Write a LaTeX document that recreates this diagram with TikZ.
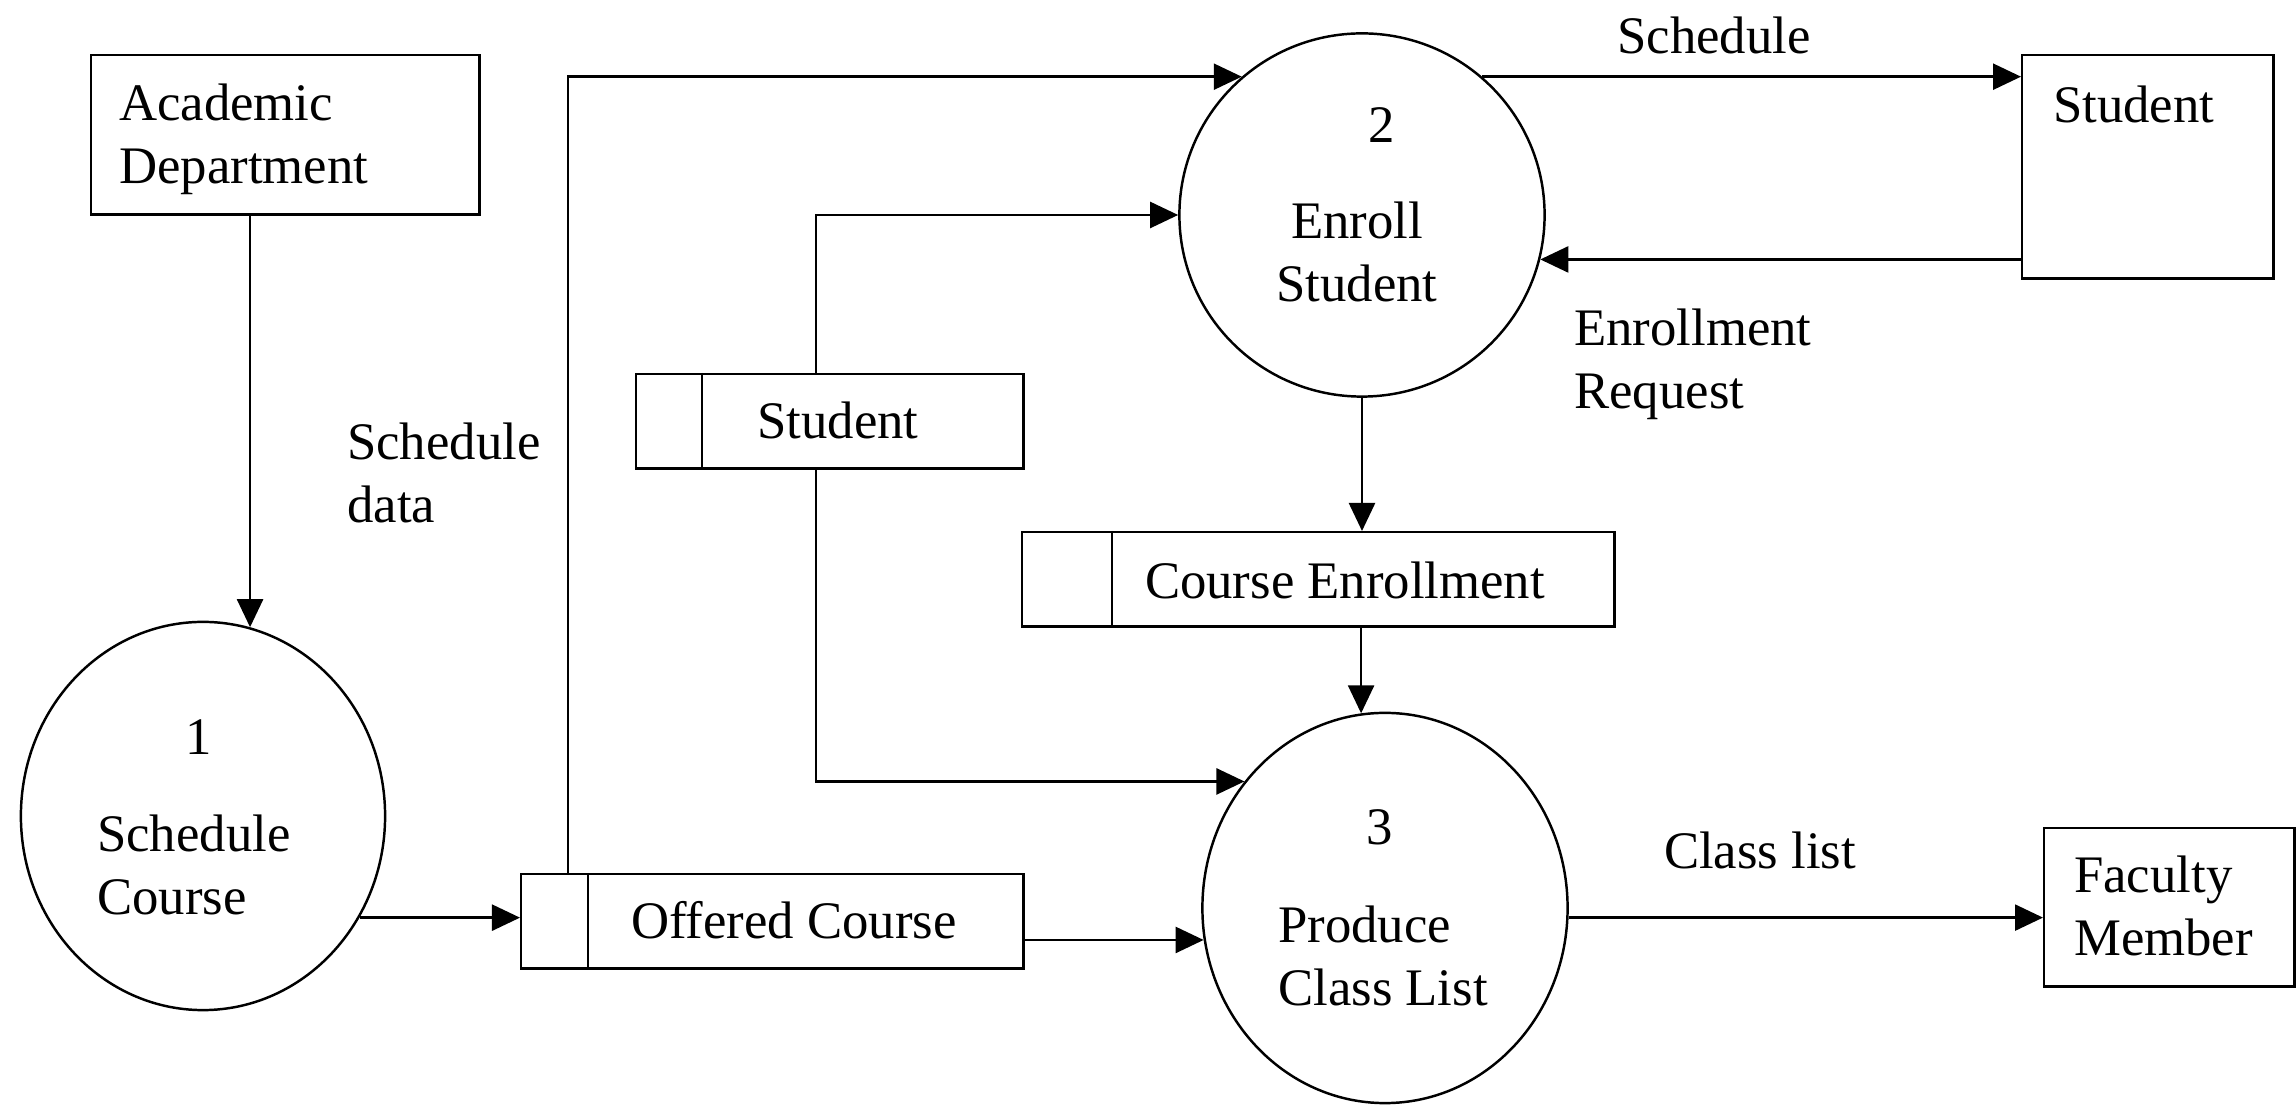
\documentclass[tikz,border=0pt]{standalone}
\usepackage{fontspec}
\setmainfont{Liberation Serif}
\usetikzlibrary{arrows.meta}
\usetikzlibrary{shapes.geometric}

\begin{document}
\begin{tikzpicture}[x=0.01cm, y=-0.01cm, line width=0.7pt, >={Triangle[length=2.8mm,width=2.6mm]},
  font=\fontsize{15pt}{18pt}\selectfont,
  entity/.style={draw, rectangle, anchor=north west, inner sep=0pt},
  datastore/.style={draw, rectangle, anchor=north west, inner sep=0pt, minimum height=0.94cm},
  process/.style={draw, ellipse, inner sep=0pt},
  txt/.style={inner sep=0pt, anchor=base west, align=left},
  ctxt/.style={inner sep=0pt, anchor=base, align=center}]
\useasboundingbox (0,0) rectangle (2296,1107);
\begin {scope}
  \node [entity, minimum width=3.88cm, minimum height=1.59cm] (dept) at (90,54) {};
  \node [entity, minimum width=2.51cm, minimum height=2.23cm] (student) at (2021,54) {};
  \node [entity, minimum width=2.50cm, minimum height=1.58cm] (faculty) at (2043,827) {};
  \node [datastore, minimum width=3.87cm] (ststore) at (635,373) {};
  \node [datastore, minimum width=5.92cm] (cestore) at (1021,531) {};
  \node [datastore, minimum width=5.02cm] (ofstore) at (520,873) {};
  \foreach \s/\d in {ststore/0.67, cestore/0.91, ofstore/0.68}
    \draw ([xshift=\d cm]\s.north west) -- ([xshift=\d cm]\s.south west);
  \node [process, minimum width=3.64cm, minimum height=3.88cm] (p1) at (203,816) {};
  \node [process, minimum width=3.65cm, minimum height=3.63cm] (p2) at (1362,215) {};
  \node [process, minimum width=3.65cm, minimum height=3.90cm] (p3) at (1385,908) {};

  % multi-line texts sit on the baseline of their last line
  \node [txt] (depttxt) at (118,184) {Academic\\Department};
  \node [txt] (studenttxt) at (2052,123) {Student};
  \node [txt] (facultytxt) at (2073,956) {Faculty\\Member};
  \node [ctxt] (sttxt) at (838,439) {Student};
  \node [ctxt] (cetxt) at (1345,599) {Course Enrollment};
  \node [ctxt] (oftxt) at (794,939) {Offered Course};
  \node [ctxt] (p1num) at (199,755) {1};
  \node [txt] (p1txt) at (96,915) {Schedule\\Course};
  \node [ctxt] (p2num) at (1382,143) {2};
  \node [ctxt] (p2txt) at (1357,302) {Enroll\\Student};
  \node [ctxt] (p3num) at (1380,845) {3};
  \node [txt] (p3txt) at (1277,1006) {Produce\\Class List};
  \node [txt] (lblschedata) at (346,523) {Schedule\\data};
  \node [ctxt] (lblschedule) at (1714,54) {Schedule};
  \node [txt] (lblrequest) at (1573,409) {Enrollment\\Request};
  \node [ctxt] (lblclass) at (1760,869) {Class list};

  \draw [->] (p1.76 |- dept.south) -- (p1.76);
  \draw [->] (p1.-33) -- (p1.-33 -| ofstore.west);
  \draw [->] ([xshift=0.48cm]ofstore.north west) |- (p2.131);
  \draw [->] ([xshift=1.81cm]ststore.north west) |- (p2.west);
  \draw [->] ([xshift=1.81cm]ststore.south west) |- (p3.138);
  \draw [->] (p3.190 -| ofstore.east) -- (p3.190);
  \draw [->] (p2.49) -- (p2.49 -| student.west);
  \draw [->] (p2.-14 -| student.west) -- (p2.-14);
  \draw [->] (p2.south) -- (p2.south |- cestore.north);
  \draw [->] (p3.97 |- cestore.south) -- (p3.97);
  \draw [->] (p3.-3) -- (p3.-3 -| faculty.west);
\end {scope}
\end{tikzpicture}
\end{document}
